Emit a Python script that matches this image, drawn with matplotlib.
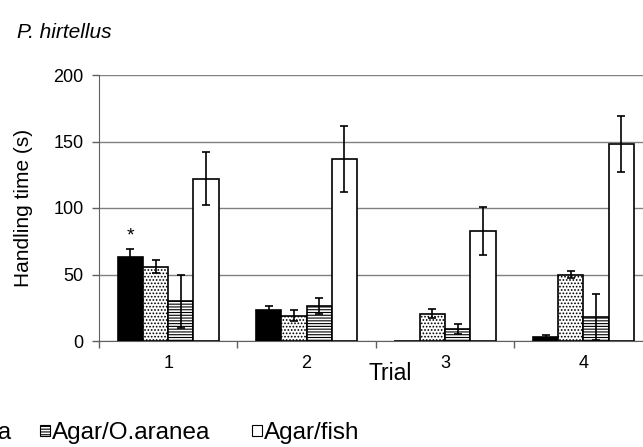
import numpy as np
import matplotlib
matplotlib.use("Agg")
import matplotlib.pyplot as plt
from matplotlib.patches import Patch

plt.rcParams['font.family'] = ['Liberation Sans', 'DejaVu Sans']
plt.rcParams['hatch.color'] = '#959595'
plt.rcParams['hatch.linewidth'] = 0.8

# data
trials = ["1", "2", "3", "4"]
series = ["Agar", "Agar/Ulva", "Agar/O.aranea", "Agar/fish"]
agar = [63, 23, 0, 3]
agar_err = [6, 3, 0, 1.2]
agar_ulva = [56, 19, 20.5, 50]
agar_ulva_err = [5, 4, 3.5, 3]
agar_oaranea = [30, 26, 9, 18]
agar_oaranea_err = [20, 6, 3.5, 17]
agar_fish = [122, 137, 83, 148]
agar_fish_err = [20, 25, 18, 21]

values = [agar, agar_ulva, agar_oaranea, agar_fish]
errors = [agar_err, agar_ulva_err, agar_oaranea_err, agar_fish_err]
styles = [dict(facecolor='black', hatch=None),
          dict(facecolor='white', hatch='.....'),
          dict(facecolor='white', hatch='------'),
          dict(facecolor='white', hatch=None)]

fig = plt.figure(figsize=(6.43, 4.47), dpi=100)
ax = fig.add_axes([99 / 643, 106 / 447, 553.6 / 643, 266 / 447])

x = np.arange(1, len(trials) + 1)
w = 0.1825
for i, (vals, errs, st) in enumerate(zip(values, errors, styles)):
    pos = x + (i - 1.5) * w
    ax.bar(pos, vals, width=w, edgecolor='black', linewidth=1.2, zorder=3, **st)
    errs = np.array(errs, dtype=float)
    keep = errs > 0
    ax.errorbar(pos[keep], np.array(vals)[keep], yerr=errs[keep], fmt='none',
                ecolor='black', elinewidth=1.2, capsize=3, capthick=1.2, zorder=4)

ax.text(1 - 1.5 * w, 79, "*", ha='center', va='center', fontsize=14)

ax.set_xlim(0.5, 4.5)
ax.set_ylim(0, 200)
ax.set_yticks([0, 50, 100, 150, 200])
ax.yaxis.grid(True, color='#808080', linewidth=1)
ax.set_axisbelow(True)
ax.set_xticks(x)
ax.set_xticklabels(trials)
ax.set_xticks([0.5, 1.5, 2.5, 3.5], minor=True)
ax.tick_params(axis='x', which='major', length=0, pad=10, labelsize=13)
ax.tick_params(axis='x', which='minor', length=5, width=1, color='#606060')
ax.tick_params(axis='y', length=5, width=1, color='#606060', labelsize=13, pad=6)
for s in ['top', 'right']:
    ax.spines[s].set_visible(False)
ax.spines['left'].set_color('#606060')
ax.spines['bottom'].set_color('#606060')

ax.set_ylabel("Handling time (s)", fontsize=15, labelpad=15)
fig.text(390 / 643, 1 - 373 / 447, "Trial", fontsize=16.5, ha='center', va='center')
fig.text(17 / 643, 1 - 32 / 447, "P. hirtellus", fontsize=15, style='italic',
         ha='left', va='center')

# legend: as in the source figure, only the last entries fit on the canvas
handles = [Patch(**styles[i], edgecolor='black', linewidth=0.8) for i in range(4)]
anchors = [('center right', -140), ('center right', 12), ('center left', 40), ('center left', 252)]
for h, lab, (loc, px) in zip(handles, series, anchors):
    fig.legend([h], [lab], loc=loc, bbox_to_anchor=(px / 643, 1 - 433 / 447),
               frameon=False, fontsize=17.5, borderaxespad=0, borderpad=0,
               handlelength=0.42, handleheight=0.3, handletextpad=0.08)

fig.savefig("out.png", dpi=100)
